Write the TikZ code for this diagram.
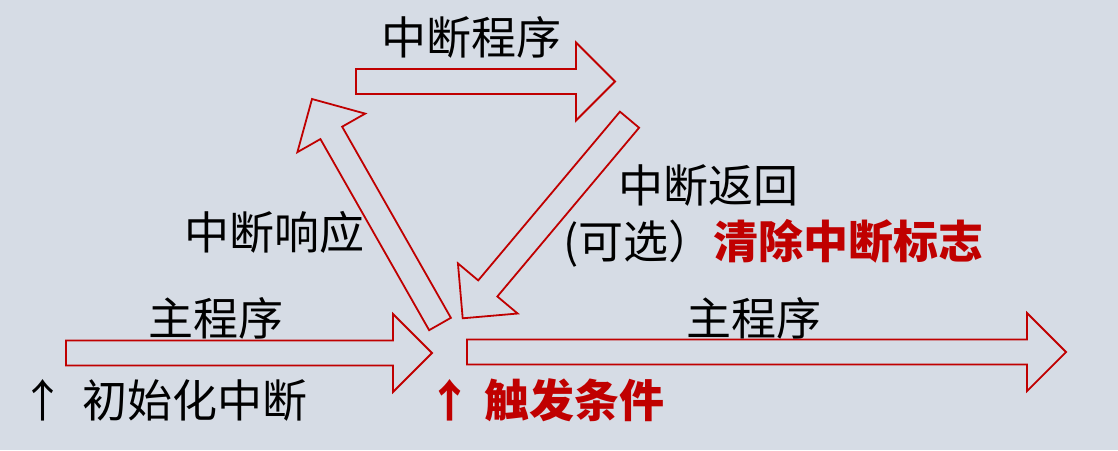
\documentclass[tikz,border=0pt]{standalone}
\usepackage{fontspec}
\setmainfont{Noto Sans CJK SC}
\usetikzlibrary{calc}
\definecolor{bg}{HTML}{D6DCE5}
\definecolor{dred}{HTML}{C00000}
\tikzset{
  blk/.style={draw=dred, line width=1.8pt, line join=miter},
  lbl/.style={inner sep=0pt, font=\fontsize{45}{54}\selectfont},
  redlbl/.style={inner sep=0pt, text=dred, font=\fontsize{45}{54}\selectfont\bfseries}
}
\newcommand\blockarrow[2]{%
  \coordinate (#1-h) at ($(#2)!39pt!(#1)$);
  \draw[blk] ($(#1)!12.5pt!90:(#2)$)
   -- ($(#1-h)!12.5pt!-90:(#1)$)
   -- ($(#1-h)!39pt!-90:(#1)$)
   -- (#2)
   -- ($(#1-h)!39pt!90:(#1)$)
   -- ($(#1-h)!12.5pt!90:(#1)$)
   -- ($(#1)!12.5pt!-90:(#2)$) -- cycle;}
\begin{document}
\begin{tikzpicture}[x=1pt,y=-1pt]
\fill[bg] (0,0) rectangle (1118,450);
\useasboundingbox (0,0) rectangle (1118,450);
% arrow end points
\coordinate (m1t) at (66,353);   \coordinate (m1p) at (432,353);
\coordinate (m2t) at (467,352);  \coordinate (m2p) at (1066,352);
\coordinate (irt) at (356,81.5); \coordinate (irp) at (615,81.5);
\coordinate (rst) at (440,324);  \coordinate (rsp) at (312,99);
\coordinate (rtt) at (629.5,119.7); \coordinate (rtp) at (462.7,318.3);
\blockarrow{m1t}{m1p}
\blockarrow{m2t}{m2p}
\blockarrow{irt}{irp}
\blockarrow{rst}{rsp}
\blockarrow{rtt}{rtp}
% labels
\node[lbl] (l1) at (471,37) {中断程序};
\node[lbl] (l2) at (274,232) {中断响应};
\node[lbl] (l3) at (216,318) {主程序};
\node[lbl] (l4) at (754,318) {主程序};
\node[lbl] (l5) at (708,185) {中断返回};
\node[lbl] (l6) at (773.5,243) {(可选）\textcolor{dred}{\bfseries 清除中断标志}};
\node[lbl] (l7a) at (43,400) {↑};
\node[lbl] (l7) at (195,400) {初始化中断};
\node[redlbl] (l8a) at (450,400) {↑};
\node[redlbl] (l8) at (574,400) {触发条件};
\end{tikzpicture}
\end{document}
